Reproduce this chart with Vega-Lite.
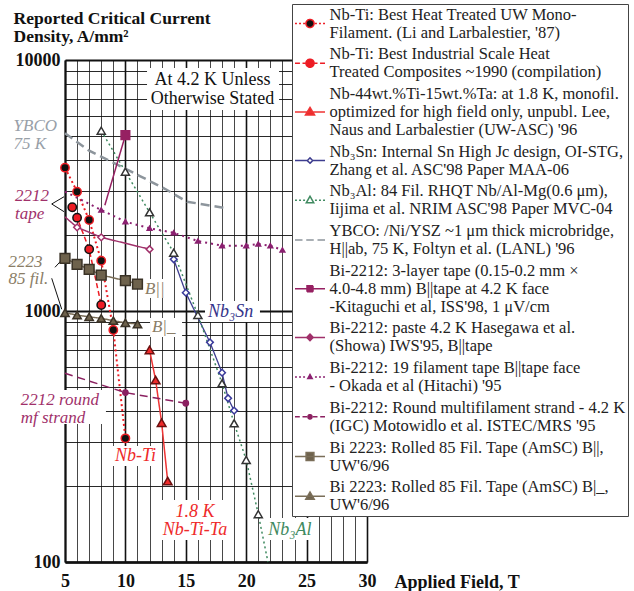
{
  "$schema": "https://vega.github.io/schema/vega-lite/v6.json",
  "width": 302,
  "height": 502,
  "autosize": {"type": "none"},
  "padding": {"left": 65, "top": 60, "right": 267, "bottom": 29},
  "config": {"font": "Liberation Serif", "view": {"stroke": null}},
  "datasets": {
    "series": [
      {"series": "NbTi_UW", "T": 5, "J": 3724, "m": 1},
      {"series": "NbTi_UW", "T": 6, "J": 2988, "m": 1},
      {"series": "NbTi_UW", "T": 7, "J": 2304, "m": 1},
      {"series": "NbTi_UW", "T": 8, "J": 1586, "m": 1},
      {"series": "NbTi_UW", "T": 9, "J": 840, "m": 1},
      {"series": "NbTi_UW", "T": 10, "J": 311, "m": 1},
      {"series": "NbTi_Ind", "T": 5.6, "J": 2590, "m": 1},
      {"series": "NbTi_Ind", "T": 6, "J": 2354, "m": 1},
      {"series": "NbTi_Ind", "T": 7, "J": 1762, "m": 1},
      {"series": "NbTi_Ind", "T": 8, "J": 1057, "m": 1},
      {"series": "NbTiTa", "T": 12, "J": 700, "m": 1},
      {"series": "NbTiTa", "T": 12.5, "J": 531, "m": 1},
      {"series": "NbTiTa", "T": 13, "J": 359, "m": 1},
      {"series": "NbTiTa", "T": 13.5, "J": 210, "m": 1},
      {"series": "Nb3Sn", "T": 14, "J": 1607, "m": 1},
      {"series": "Nb3Sn", "T": 15, "J": 1183, "m": 1},
      {"series": "Nb3Sn", "T": 17, "J": 750, "m": 1},
      {"series": "Nb3Sn", "T": 18, "J": 568, "m": 1},
      {"series": "Nb3Sn", "T": 18.5, "J": 449, "m": 1},
      {"series": "Nb3Sn", "T": 19, "J": 401, "m": 1},
      {"series": "Nb3Al", "T": 8, "J": 5228, "m": 1},
      {"series": "Nb3Al", "T": 10, "J": 3590, "m": 1},
      {"series": "Nb3Al", "T": 12, "J": 2473, "m": 1},
      {"series": "Nb3Al", "T": 14, "J": 1708, "m": 1},
      {"series": "Nb3Al", "T": 16, "J": 964, "m": 1},
      {"series": "Nb3Al", "T": 18, "J": 515, "m": 1},
      {"series": "Nb3Al", "T": 19, "J": 357, "m": 1},
      {"series": "Nb3Al", "T": 20, "J": 255, "m": 1},
      {"series": "Nb3Al", "T": 21, "J": 155, "m": 1},
      {"series": "Nb3Al", "T": 21.8, "J": 100, "m": 0},
      {"series": "YBCO", "T": 5, "J": 5105, "m": 0},
      {"series": "YBCO", "T": 7, "J": 4352, "m": 0},
      {"series": "YBCO", "T": 11.2, "J": 3450, "m": 0},
      {"series": "YBCO", "T": 13.3, "J": 3062, "m": 0},
      {"series": "YBCO", "T": 15.1, "J": 2726, "m": 0},
      {"series": "YBCO", "T": 18.4, "J": 2566, "m": 0},
      {"series": "Bi2212_3L", "T": 8.3, "J": 2640, "m": 0},
      {"series": "Bi2212_3L", "T": 10, "J": 5020, "m": 1},
      {"series": "Bi2212_paste", "T": 5, "J": 2370, "m": 0},
      {"series": "Bi2212_paste", "T": 6, "J": 2155, "m": 1},
      {"series": "Bi2212_paste", "T": 8, "J": 1966, "m": 1},
      {"series": "Bi2212_paste", "T": 12, "J": 1762, "m": 1},
      {"series": "Bi2212_19f", "T": 5, "J": 2990, "m": 0},
      {"series": "Bi2212_19f", "T": 8, "J": 2526, "m": 1},
      {"series": "Bi2212_19f", "T": 10, "J": 2270, "m": 1},
      {"series": "Bi2212_19f", "T": 12, "J": 2136, "m": 1},
      {"series": "Bi2212_19f", "T": 14, "J": 2050, "m": 1},
      {"series": "Bi2212_19f", "T": 16, "J": 1900, "m": 1},
      {"series": "Bi2212_19f", "T": 18, "J": 1820, "m": 1},
      {"series": "Bi2212_19f", "T": 20, "J": 1820, "m": 1},
      {"series": "Bi2212_19f", "T": 21, "J": 1849, "m": 1},
      {"series": "Bi2212_19f", "T": 22, "J": 1820, "m": 1},
      {"series": "Bi2212_19f", "T": 23, "J": 1750, "m": 1},
      {"series": "Bi2212_round", "T": 5, "J": 565, "m": 0},
      {"series": "Bi2212_round", "T": 10, "J": 473, "m": 1},
      {"series": "Bi2212_round", "T": 15, "J": 429, "m": 1},
      {"series": "Bi2223_par", "T": 5, "J": 1622, "m": 1},
      {"series": "Bi2223_par", "T": 6, "J": 1535, "m": 1},
      {"series": "Bi2223_par", "T": 7, "J": 1466, "m": 1},
      {"series": "Bi2223_par", "T": 8, "J": 1391, "m": 1},
      {"series": "Bi2223_par", "T": 10, "J": 1321, "m": 1},
      {"series": "Bi2223_par", "T": 11, "J": 1281, "m": 1},
      {"series": "Bi2223_perp", "T": 5, "J": 984, "m": 1},
      {"series": "Bi2223_perp", "T": 6, "J": 963, "m": 1},
      {"series": "Bi2223_perp", "T": 7, "J": 948, "m": 1},
      {"series": "Bi2223_perp", "T": 8, "J": 935, "m": 1},
      {"series": "Bi2223_perp", "T": 9, "J": 915, "m": 1},
      {"series": "Bi2223_perp", "T": 10, "J": 897, "m": 1},
      {"series": "Bi2223_perp", "T": 11, "J": 887, "m": 1}
    ],
    "boxes": [
      {"T": 11.79, "T2": 22.72, "J": 9293, "J2": 6322},
      {"T": 1.11, "T2": 8.39, "J": 484.5, "J2": 354.6},
      {"T": 11.46, "T2": 13.61, "J": 1341, "J2": 1127},
      {"T": 12.04, "T2": 14.69, "J": 938, "J2": 788},
      {"T": 16.59, "T2": 21.14, "J": 1096, "J2": 904},
      {"T": 8.97, "T2": 12.86, "J": 290, "J2": 241},
      {"T": 12.7, "T2": 18.82, "J": 176.6, "J2": 122.4},
      {"T": 21.64, "T2": 25.78, "J": 149.7, "J2": 122.4}
    ],
    "arrows": [
      {"T": 3.9, "J": 2669, "T2": 4.92, "J2": 2853},
      {"T": 3.9, "J": 2669, "T2": 4.92, "J2": 2487},
      {"T": 4.17, "J": 1493, "T2": 4.86, "J2": 1622},
      {"T": 3.9, "J": 1350, "T2": 4.73, "J2": 1016}
    ]
  },
  "encoding": {
    "x": {
      "field": "T", "type": "quantitative",
      "scale": {"domain": [5, 30], "nice": false, "zero": false},
      "axis": {
        "title": "Applied Field, T", "titleX": 329, "titleY": 25, "titleAlign": "left", "titleBaseline": "alphabetic",
        "titleFont": "Liberation Serif", "titleFontWeight": "bold", "titleFontSize": 18, "titleColor": "#111",
        "values": [5,6,7,8,9,10,11,12,13,14,15,16,17,18,19,20,21,22,23,24,25,26,27,28,29,30],
        "labelExpr": "datum.value % 5 == 0 ? datum.label : ''",
        "labelFont": "Liberation Serif", "labelFontSize": 18, "labelFontWeight": "bold", "labelColor": "#111",
        "labelPadding": 10, "labelFlush": false, "labelOverlap": false,
        "ticks": false, "tickSize": 0,
        "domainColor": "#111", "domainWidth": 2.5,
        "grid": true, "gridOpacity": 1,
        "gridColor": {"condition": {"test": "datum.value % 5 == 0", "value": "#111"}, "value": "#333"},
        "gridWidth": {"condition": {"test": "datum.value % 5 == 0", "value": 1.6}, "value": 0.9}
      }
    },
    "y": {
      "field": "J", "type": "quantitative",
      "scale": {"type": "log", "domain": [100, 10000], "nice": false},
      "axis": {
        "title": ["Reported Critical Current", "Density, A/mm²"], "titleAngle": 0, "titleX": -52, "titleY": -37,
        "titleAlign": "left", "titleBaseline": "alphabetic", "titleLineHeight": 18,
        "titleFont": "Liberation Serif", "titleFontWeight": "bold", "titleFontSize": 17.5, "titleColor": "#111",
        "values": [100,200,300,400,500,600,700,800,900,1000,2000,3000,4000,5000,6000,7000,8000,9000,10000],
        "labelExpr": "indexof([100,1000,10000], datum.value) >= 0 ? format(datum.value, 'd') : ''",
        "labelFont": "Liberation Serif", "labelFontSize": 18, "labelFontWeight": "bold", "labelColor": "#111",
        "labelPadding": 5, "labelOverlap": false,
        "ticks": false, "tickSize": 0,
        "domainColor": "#111", "domainWidth": 2,
        "grid": true, "gridOpacity": 1, "gridColor": "#111",
        "gridWidth": {"condition": {"test": "indexof([100,1000,10000], datum.value) >= 0", "value": 2}, "value": 0.9}
      }
    }
  },
  "layer": [
    {
      "data": {"name": "boxes"},
      "mark": {"type": "rect", "fill": "white"},
      "encoding": {"x2": {"field": "T2"}, "y2": {"field": "J2"}}
    },
    {
      "data": {"name": "arrows"},
      "mark": {"type": "rule", "color": "#111", "strokeWidth": 1},
      "encoding": {"x2": {"field": "T2"}, "y2": {"field": "J2"}}
    },
    {
      "data": {"name": "series"},
      "mark": {"type": "line"},
      "encoding": {
        "color": {
          "field": "series", "type": "nominal",
          "scale": {
            "domain": ["NbTi_UW","NbTi_Ind","NbTiTa","Nb3Sn","Nb3Al","YBCO","Bi2212_3L","Bi2212_paste","Bi2212_19f","Bi2212_round","Bi2223_par","Bi2223_perp"],
            "range": ["#ed1c24","#ed1c24","#ef3535","#3d3d8f","#3f8a60","#8d959c","#962062","#a0306a","#8b2070","#8b2060","#7a6e58","#7a6e58"]
          },
          "legend": {
            "orient": "none", "legendX": 227, "legendY": -56, "direction": "vertical",
            "title": null, "padding": 2, "strokeColor": "#444", "fillColor": "white",
            "symbolSize": 225, "symbolStrokeWidth": 1.5, "symbolOpacity": 1, "symbolOffset": 7.5,
            "labelFont": "Liberation Serif", "labelFontSize": 16.5, "labelColor": "#222", "labelLimit": 500, "labelOffset": 11,
            "rowPadding": 4.7,
            "labelExpr": "({NbTi_UW: [\"Nb-Ti: Best Heat Treated UW Mono-\", \"Filament.   (Li and Larbalestier, '87)\"], NbTi_Ind: [\"Nb-Ti:  Best Industrial Scale Heat\", \"Treated Composites ~1990 (compilation)\"], NbTiTa: [\"Nb-44wt.%Ti-15wt.%Ta: at 1.8 K, monofil.\", \"optimized for high field only, unpubl. Lee,\", \"Naus and Larbalestier (UW-ASC) '96\"], Nb3Sn: [\"Nb₃Sn: Internal Sn High Jc design, OI-STG,\", \"Zhang et al. ASC'98 Paper MAA-06\"], Nb3Al: [\"Nb₃Al: 84 Fil. RHQT Nb/Al-Mg(0.6 μm),\", \"Iijima et al. NRIM ASC'98 Paper MVC-04\"], YBCO: [\"YBCO: /Ni/YSZ ~1 μm thick microbridge,\", \"H||ab, 75 K, Foltyn et al. (LANL) '96\"], Bi2212_3L: [\"Bi-2212:  3-layer tape (0.15-0.2 mm  ×\", \"4.0-4.8 mm) B||tape at 4.2 K face\", \" -Kitaguchi et al, ISS'98, 1 μV/cm\"], Bi2212_paste: [\"Bi-2212:  paste 4.2 K Hasegawa et al.\", \"(Showa) IWS'95, B||tape\"], Bi2212_19f: [\"Bi-2212:  19 filament tape B||tape face\", \"- Okada et al (Hitachi) '95\"], Bi2212_round: [\"Bi-2212: Round multifilament strand - 4.2 K\", \"(IGC) Motowidlo et al. ISTEC/MRS '95\"], Bi2223_par: [\"Bi 2223: Rolled 85 Fil. Tape (AmSC) B||,\", \"UW'6/96\"], Bi2223_perp: [\"Bi 2223: Rolled 85 Fil. Tape (AmSC) B|_,\", \"UW'6/96\"]})[datum.value]",
            "encode": {
              "symbols": {
                "update": {
                  "shape": {"signal": "({NbTi_UW: 'M-2,0H-1.74M-1.46,0H-1.2M-0.92,0H-0.66M0.66,0H0.92M1.2,0H1.46M1.74,0H2M0.54,0C0.54,0.298,0.298,0.54,0,0.54C-0.298,0.54,-0.54,0.298,-0.54,0C-0.54,-0.298,-0.298,-0.54,0,-0.54C0.298,-0.54,0.54,-0.298,0.54,0Z', NbTi_Ind: 'M-2,0H-1.34M-1,0H-0.64M0.64,0H1M1.34,0H2M0.54,0C0.54,0.298,0.298,0.54,0,0.54C-0.298,0.54,-0.54,0.298,-0.54,0C-0.54,-0.298,-0.298,-0.54,0,-0.54C0.298,-0.54,0.54,-0.298,0.54,0Z', NbTiTa: 'M-2,0H2M0,-0.6L0.6,0.4L-0.6,0.4Z', Nb3Sn: 'M-2,0H-0.4M0.4,0H2M0,-0.36L0.36,0L0,0.36L-0.36,0Z', Nb3Al: 'M-2,0H-1.74M-1.46,0H-1.2M-0.92,0H-0.66M0.66,0H0.92M1.2,0H1.46M1.74,0H2M0,-0.54L0.5,0.34L-0.5,0.34Z', YBCO: 'M-2,0H-1M-0.5,0H0.5M1,0H2', Bi2212_3L: 'M-2,0H2M-0.4,-0.4H0.4V0.4H-0.4Z', Bi2212_paste: 'M-2,0H2M0,-0.44L0.44,0L0,0.44L-0.44,0Z', Bi2212_19f: 'M-2,0H-1.74M-1.46,0H-1.2M-0.92,0H-0.66M0.66,0H0.92M1.2,0H1.46M1.74,0H2M0,-0.34L0.3,0.2L-0.3,0.2Z', Bi2212_round: 'M-2,0H-1.36M-1,0H-0.4M0.4,0H1M1.36,0H2M0.28,0C0.28,0.154,0.154,0.28,0,0.28C-0.154,0.28,-0.28,0.154,-0.28,0C-0.28,-0.154,-0.154,-0.28,0,-0.28C0.154,-0.28,0.28,-0.154,0.28,0Z', Bi2223_par: 'M-2,0H2M-0.52,-0.52H0.52V0.52H-0.52Z', Bi2223_perp: 'M-2,0H2M0,-0.56L0.56,0.4L-0.56,0.4Z'})[datum.value]"},
                  "fill": {"signal": "({NbTi_UW: '#111111', NbTi_Ind: '#ed1c24', NbTiTa: '#ee2a2a', Nb3Sn: '#ffffff', Nb3Al: '#ffffff', YBCO: 'transparent', Bi2212_3L: '#962062', Bi2212_paste: '#a0306a', Bi2212_19f: '#8b2070', Bi2212_round: '#8b2060', Bi2223_par: '#6e624c', Bi2223_perp: '#6e624c'})[datum.value]"},
                  "y": {"signal": "datum.size * 0.5 + (indexof(['NbTiTa','Bi2212_3L'], datum.value) >= 0 ? 18 : 9)"},
                  "strokeDash": {"value": [1, 0]},
                  "opacity": {"value": 1}
                }
              },
              "labels": {
                "update": {
                  "lineHeight": {"value": 18}
                }
              }
            }
          }
        },
        "strokeDash": {
          "field": "series", "type": "nominal",
          "scale": {
            "domain": ["Bi2223_perp","Bi2223_par","Bi2212_round","Bi2212_19f","Bi2212_paste","Bi2212_3L","YBCO","Nb3Al","Nb3Sn","NbTiTa","NbTi_Ind","NbTi_UW"],
            "range": [[1,0],[1,0],[8,5],[2,4],[1,0],[1,0],[9,5],[2,3],[1,0],[1,0],[5,3],[2,3]]
          },
          "legend": null
        },
        "strokeWidth": {
          "field": "series", "type": "nominal",
          "scale": {
            "type": "ordinal",
            "domain": ["Bi2223_perp","Bi2223_par","Bi2212_round","Bi2212_19f","Bi2212_paste","Bi2212_3L","YBCO","Nb3Al","Nb3Sn","NbTiTa","NbTi_Ind","NbTi_UW"],
            "range": [1.5,1.5,1.5,2,1.5,1.5,2.5,1.5,1.3,1.5,1.5,2]
          },
          "legend": null
        }
      }
    },
    {
      "data": {"name": "series"},
      "transform": [{"filter": "datum.m == 1"}],
      "mark": {"type": "point", "opacity": 1, "strokeWidth": 1.5},
      "encoding": {
        "shape": {
          "field": "series", "type": "nominal",
          "scale": {
            "domain": ["Bi2223_perp","Bi2223_par","Bi2212_round","Bi2212_19f","Bi2212_paste","Bi2212_3L","YBCO","Nb3Al","Nb3Sn","NbTiTa","NbTi_Ind","NbTi_UW"],
            "range": ["triangle-up","square","circle","triangle-up","diamond","square","circle","triangle-up","diamond","triangle-up","circle","circle"]
          },
          "legend": null
        },
        "fill": {
          "field": "series", "type": "nominal",
          "scale": {
            "domain": ["Bi2223_perp","Bi2223_par","Bi2212_round","Bi2212_19f","Bi2212_paste","Bi2212_3L","YBCO","Nb3Al","Nb3Sn","NbTiTa","NbTi_Ind","NbTi_UW"],
            "range": ["#6e624c","#6e624c","#8b2060","#8b2070","#ffffff","#962062","#8d959c","#ffffff","#ffffff","#ee2a2a","#ed1c24","#111111"]
          },
          "legend": null
        },
        "stroke": {
          "field": "series", "type": "nominal",
          "scale": {
            "domain": ["Bi2223_perp","Bi2223_par","Bi2212_round","Bi2212_19f","Bi2212_paste","Bi2212_3L","YBCO","Nb3Al","Nb3Sn","NbTiTa","NbTi_Ind","NbTi_UW"],
            "range": ["#3a3226","#3a3226","#8b2060","#8b2070","#a0306a","#962062","#8d959c","#333333","#3a3a9a","#6a1010","#111111","#ed1c24"]
          },
          "legend": null
        },
        "size": {
          "field": "series", "type": "nominal",
          "scale": {
            "type": "ordinal",
            "domain": ["Bi2223_perp","Bi2223_par","Bi2212_round","Bi2212_19f","Bi2212_paste","Bi2212_3L","YBCO","Nb3Al","Nb3Sn","NbTiTa","NbTi_Ind","NbTi_UW"],
            "range": [70,95,28,22,45,75,30,65,45,75,70,70]
          },
          "legend": null
        }
      }
    },
    {
      "data": {"values": [{"T": 17.21, "J": 7950, "txt": "At 4.2 K Unless\nOtherwise Stated"}]},
      "mark": {"type": "text", "align": "center", "baseline": "alphabetic", "font": "Liberation Serif", "fontSize": 18, "lineHeight": 19.3, "lineBreak": "\n", "color": "#111"},
      "encoding": {"text": {"field": "txt"}}
    },
    {
      "data": {"values": [{"T": 0.74, "J": 5213, "txt": "YBCO\n75 K"}]},
      "mark": {"type": "text", "align": "left", "baseline": "alphabetic", "font": "Liberation Serif", "fontStyle": "italic", "fontSize": 17, "lineHeight": 17.5, "lineBreak": "\n", "color": "#98a0a8"},
      "encoding": {"text": {"field": "txt"}}
    },
    {
      "data": {"values": [{"T": 0.86, "J": 2743, "txt": "2212\ntape"}, {"T": 1.33, "J": 422, "txt": "2212 round\nmf strand"}]},
      "mark": {"type": "text", "align": "left", "baseline": "alphabetic", "font": "Liberation Serif", "fontStyle": "italic", "fontSize": 17, "lineHeight": 17.5, "lineBreak": "\n", "color": "#a0306a"},
      "encoding": {"text": {"field": "txt"}}
    },
    {
      "data": {"values": [{"T": 0.32, "J": 1504, "txt": "2223\n85 fil."}, {"T": 11.62, "J": 1169, "txt": "B||"}, {"T": 12.2, "J": 825, "txt": "B|_"}]},
      "mark": {"type": "text", "align": "left", "baseline": "alphabetic", "font": "Liberation Serif", "fontStyle": "italic", "fontSize": 17, "lineHeight": 17.5, "lineBreak": "\n", "color": "#8a7d66"},
      "encoding": {"text": {"field": "txt"}}
    },
    {
      "data": {"values": [{"T": 16.84, "J": 946, "txt": "Nb₃Sn"}]},
      "mark": {"type": "text", "align": "left", "baseline": "alphabetic", "font": "Liberation Serif", "fontStyle": "italic", "fontSize": 18, "color": "#34348a"},
      "encoding": {"text": {"field": "txt"}}
    },
    {
      "data": {"values": [{"T": 9.14, "J": 253, "txt": "Nb-Ti"}]},
      "mark": {"type": "text", "align": "left", "baseline": "alphabetic", "font": "Liberation Serif", "fontStyle": "italic", "fontSize": 18, "color": "#ee2a2a"},
      "encoding": {"text": {"field": "txt"}}
    },
    {
      "data": {"values": [{"T": 15.76, "J": 151.8, "txt": "1.8 K\nNb-Ti-Ta"}]},
      "mark": {"type": "text", "align": "center", "baseline": "alphabetic", "font": "Liberation Serif", "fontStyle": "italic", "fontSize": 18, "lineHeight": 18.5, "lineBreak": "\n", "color": "#ee2a2a"},
      "encoding": {"text": {"field": "txt"}}
    },
    {
      "data": {"values": [{"T": 21.83, "J": 128, "txt": "Nb₃Al"}]},
      "mark": {"type": "text", "align": "left", "baseline": "alphabetic", "font": "Liberation Serif", "fontStyle": "italic", "fontSize": 18, "color": "#3f8a60"},
      "encoding": {"text": {"field": "txt"}}
    }
  ]
}
